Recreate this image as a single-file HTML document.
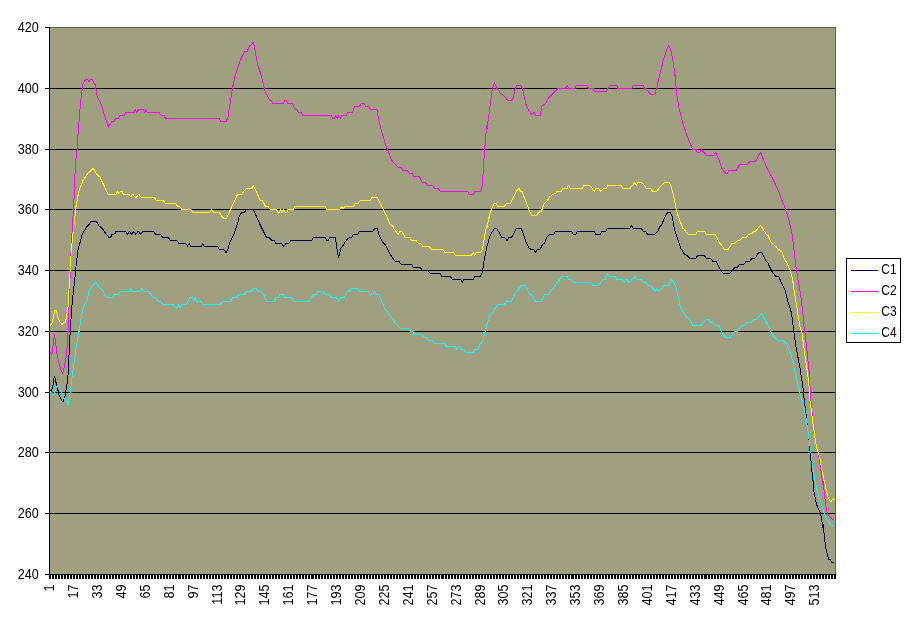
<!DOCTYPE html>
<html lang="en"><head><meta charset="utf-8"><title>Chart</title>
<style>html,body{margin:0;padding:0;background:#fff}body{width:911px;height:623px;overflow:hidden}svg{display:block}text{font-family:"Liberation Sans",Arial,sans-serif;font-size:14px;fill:#000}</style></head><body>
<svg width="911" height="623" viewBox="0 0 911 623">
<rect width="911" height="623" fill="#fff"/>
<g shape-rendering="crispEdges">
<rect x="49" y="27" width="787" height="548" fill="#A0A080"/>
<rect x="49" y="27" width="787" height="1" fill="#62623C"/>
<rect x="835" y="27" width="1" height="548" fill="#62623C"/>
<rect x="49" y="88" width="786" height="1" fill="#000"/>
<rect x="49" y="149" width="786" height="1" fill="#000"/>
<rect x="49" y="209" width="786" height="1" fill="#000"/>
<rect x="49" y="270" width="786" height="1" fill="#000"/>
<rect x="49" y="331" width="786" height="1" fill="#000"/>
<rect x="49" y="392" width="786" height="1" fill="#000"/>
<rect x="49" y="452" width="786" height="1" fill="#000"/>
<rect x="49" y="513" width="786" height="1" fill="#000"/>
<rect x="49" y="27" width="1" height="548" fill="#000"/>
<rect x="49" y="574" width="787" height="1" fill="#000"/>
<rect x="45" y="27" width="4" height="1" fill="#000"/>
<rect x="45" y="88" width="4" height="1" fill="#000"/>
<rect x="45" y="149" width="4" height="1" fill="#000"/>
<rect x="45" y="209" width="4" height="1" fill="#000"/>
<rect x="45" y="270" width="4" height="1" fill="#000"/>
<rect x="45" y="331" width="4" height="1" fill="#000"/>
<rect x="45" y="392" width="4" height="1" fill="#000"/>
<rect x="45" y="452" width="4" height="1" fill="#000"/>
<rect x="45" y="513" width="4" height="1" fill="#000"/>
<rect x="45" y="574" width="4" height="1" fill="#000"/>
<path d="M49 575h1v4h-1zM50 575h1v4h-1zM52 575h1v4h-1zM53 575h1v4h-1zM55 575h1v4h-1zM56 575h1v4h-1zM58 575h1v4h-1zM59 575h1v4h-1zM61 575h1v4h-1zM62 575h1v4h-1zM64 575h1v4h-1zM65 575h1v4h-1zM67 575h1v4h-1zM68 575h1v4h-1zM70 575h1v4h-1zM71 575h1v4h-1zM73 575h1v4h-1zM74 575h1v4h-1zM76 575h1v4h-1zM77 575h1v4h-1zM79 575h1v4h-1zM80 575h1v4h-1zM82 575h1v4h-1zM83 575h1v4h-1zM85 575h1v4h-1zM86 575h1v4h-1zM88 575h1v4h-1zM89 575h1v4h-1zM91 575h1v4h-1zM92 575h1v4h-1zM94 575h1v4h-1zM95 575h1v4h-1zM97 575h1v4h-1zM98 575h1v4h-1zM100 575h1v4h-1zM101 575h1v4h-1zM103 575h1v4h-1zM104 575h1v4h-1zM106 575h1v4h-1zM107 575h1v4h-1zM109 575h1v4h-1zM110 575h1v4h-1zM112 575h1v4h-1zM113 575h1v4h-1zM115 575h1v4h-1zM116 575h1v4h-1zM118 575h1v4h-1zM119 575h1v4h-1zM121 575h1v4h-1zM122 575h1v4h-1zM124 575h1v4h-1zM125 575h1v4h-1zM127 575h1v4h-1zM128 575h1v4h-1zM130 575h1v4h-1zM131 575h1v4h-1zM133 575h1v4h-1zM134 575h1v4h-1zM136 575h1v4h-1zM137 575h1v4h-1zM139 575h1v4h-1zM140 575h1v4h-1zM142 575h1v4h-1zM143 575h1v4h-1zM145 575h1v4h-1zM146 575h1v4h-1zM148 575h1v4h-1zM149 575h1v4h-1zM151 575h1v4h-1zM152 575h1v4h-1zM154 575h1v4h-1zM155 575h1v4h-1zM157 575h1v4h-1zM158 575h1v4h-1zM160 575h1v4h-1zM161 575h1v4h-1zM163 575h1v4h-1zM164 575h1v4h-1zM166 575h1v4h-1zM167 575h1v4h-1zM169 575h1v4h-1zM170 575h1v4h-1zM172 575h1v4h-1zM173 575h1v4h-1zM175 575h1v4h-1zM176 575h1v4h-1zM178 575h1v4h-1zM179 575h1v4h-1zM180 575h1v4h-1zM182 575h1v4h-1zM183 575h1v4h-1zM185 575h1v4h-1zM186 575h1v4h-1zM188 575h1v4h-1zM189 575h1v4h-1zM191 575h1v4h-1zM192 575h1v4h-1zM194 575h1v4h-1zM195 575h1v4h-1zM197 575h1v4h-1zM198 575h1v4h-1zM200 575h1v4h-1zM201 575h1v4h-1zM203 575h1v4h-1zM204 575h1v4h-1zM206 575h1v4h-1zM207 575h1v4h-1zM209 575h1v4h-1zM210 575h1v4h-1zM212 575h1v4h-1zM213 575h1v4h-1zM215 575h1v4h-1zM216 575h1v4h-1zM218 575h1v4h-1zM219 575h1v4h-1zM221 575h1v4h-1zM222 575h1v4h-1zM224 575h1v4h-1zM225 575h1v4h-1zM227 575h1v4h-1zM228 575h1v4h-1zM230 575h1v4h-1zM231 575h1v4h-1zM233 575h1v4h-1zM234 575h1v4h-1zM236 575h1v4h-1zM237 575h1v4h-1zM239 575h1v4h-1zM240 575h1v4h-1zM242 575h1v4h-1zM243 575h1v4h-1zM245 575h1v4h-1zM246 575h1v4h-1zM248 575h1v4h-1zM249 575h1v4h-1zM251 575h1v4h-1zM252 575h1v4h-1zM254 575h1v4h-1zM255 575h1v4h-1zM257 575h1v4h-1zM258 575h1v4h-1zM260 575h1v4h-1zM261 575h1v4h-1zM263 575h1v4h-1zM264 575h1v4h-1zM266 575h1v4h-1zM267 575h1v4h-1zM269 575h1v4h-1zM270 575h1v4h-1zM272 575h1v4h-1zM273 575h1v4h-1zM275 575h1v4h-1zM276 575h1v4h-1zM278 575h1v4h-1zM279 575h1v4h-1zM281 575h1v4h-1zM282 575h1v4h-1zM284 575h1v4h-1zM285 575h1v4h-1zM287 575h1v4h-1zM288 575h1v4h-1zM290 575h1v4h-1zM291 575h1v4h-1zM293 575h1v4h-1zM294 575h1v4h-1zM296 575h1v4h-1zM297 575h1v4h-1zM299 575h1v4h-1zM300 575h1v4h-1zM302 575h1v4h-1zM303 575h1v4h-1zM305 575h1v4h-1zM306 575h1v4h-1zM308 575h1v4h-1zM309 575h1v4h-1zM311 575h1v4h-1zM312 575h1v4h-1zM313 575h1v4h-1zM315 575h1v4h-1zM316 575h1v4h-1zM318 575h1v4h-1zM319 575h1v4h-1zM321 575h1v4h-1zM322 575h1v4h-1zM324 575h1v4h-1zM325 575h1v4h-1zM327 575h1v4h-1zM328 575h1v4h-1zM330 575h1v4h-1zM331 575h1v4h-1zM333 575h1v4h-1zM334 575h1v4h-1zM336 575h1v4h-1zM337 575h1v4h-1zM339 575h1v4h-1zM340 575h1v4h-1zM342 575h1v4h-1zM343 575h1v4h-1zM345 575h1v4h-1zM346 575h1v4h-1zM348 575h1v4h-1zM349 575h1v4h-1zM351 575h1v4h-1zM352 575h1v4h-1zM354 575h1v4h-1zM355 575h1v4h-1zM357 575h1v4h-1zM358 575h1v4h-1zM360 575h1v4h-1zM361 575h1v4h-1zM363 575h1v4h-1zM364 575h1v4h-1zM366 575h1v4h-1zM367 575h1v4h-1zM369 575h1v4h-1zM370 575h1v4h-1zM372 575h1v4h-1zM373 575h1v4h-1zM375 575h1v4h-1zM376 575h1v4h-1zM378 575h1v4h-1zM379 575h1v4h-1zM381 575h1v4h-1zM382 575h1v4h-1zM384 575h1v4h-1zM385 575h1v4h-1zM387 575h1v4h-1zM388 575h1v4h-1zM390 575h1v4h-1zM391 575h1v4h-1zM393 575h1v4h-1zM394 575h1v4h-1zM396 575h1v4h-1zM397 575h1v4h-1zM399 575h1v4h-1zM400 575h1v4h-1zM402 575h1v4h-1zM403 575h1v4h-1zM405 575h1v4h-1zM406 575h1v4h-1zM408 575h1v4h-1zM409 575h1v4h-1zM411 575h1v4h-1zM412 575h1v4h-1zM414 575h1v4h-1zM415 575h1v4h-1zM417 575h1v4h-1zM418 575h1v4h-1zM420 575h1v4h-1zM421 575h1v4h-1zM423 575h1v4h-1zM424 575h1v4h-1zM426 575h1v4h-1zM427 575h1v4h-1zM429 575h1v4h-1zM430 575h1v4h-1zM432 575h1v4h-1zM433 575h1v4h-1zM435 575h1v4h-1zM436 575h1v4h-1zM438 575h1v4h-1zM439 575h1v4h-1zM441 575h1v4h-1zM442 575h1v4h-1zM443 575h1v4h-1zM445 575h1v4h-1zM446 575h1v4h-1zM448 575h1v4h-1zM449 575h1v4h-1zM451 575h1v4h-1zM452 575h1v4h-1zM454 575h1v4h-1zM455 575h1v4h-1zM457 575h1v4h-1zM458 575h1v4h-1zM460 575h1v4h-1zM461 575h1v4h-1zM463 575h1v4h-1zM464 575h1v4h-1zM466 575h1v4h-1zM467 575h1v4h-1zM469 575h1v4h-1zM470 575h1v4h-1zM472 575h1v4h-1zM473 575h1v4h-1zM475 575h1v4h-1zM476 575h1v4h-1zM478 575h1v4h-1zM479 575h1v4h-1zM481 575h1v4h-1zM482 575h1v4h-1zM484 575h1v4h-1zM485 575h1v4h-1zM487 575h1v4h-1zM488 575h1v4h-1zM490 575h1v4h-1zM491 575h1v4h-1zM493 575h1v4h-1zM494 575h1v4h-1zM496 575h1v4h-1zM497 575h1v4h-1zM499 575h1v4h-1zM500 575h1v4h-1zM502 575h1v4h-1zM503 575h1v4h-1zM505 575h1v4h-1zM506 575h1v4h-1zM508 575h1v4h-1zM509 575h1v4h-1zM511 575h1v4h-1zM512 575h1v4h-1zM514 575h1v4h-1zM515 575h1v4h-1zM517 575h1v4h-1zM518 575h1v4h-1zM520 575h1v4h-1zM521 575h1v4h-1zM523 575h1v4h-1zM524 575h1v4h-1zM526 575h1v4h-1zM527 575h1v4h-1zM529 575h1v4h-1zM530 575h1v4h-1zM532 575h1v4h-1zM533 575h1v4h-1zM535 575h1v4h-1zM536 575h1v4h-1zM538 575h1v4h-1zM539 575h1v4h-1zM541 575h1v4h-1zM542 575h1v4h-1zM544 575h1v4h-1zM545 575h1v4h-1zM547 575h1v4h-1zM548 575h1v4h-1zM550 575h1v4h-1zM551 575h1v4h-1zM553 575h1v4h-1zM554 575h1v4h-1zM556 575h1v4h-1zM557 575h1v4h-1zM559 575h1v4h-1zM560 575h1v4h-1zM562 575h1v4h-1zM563 575h1v4h-1zM565 575h1v4h-1zM566 575h1v4h-1zM568 575h1v4h-1zM569 575h1v4h-1zM571 575h1v4h-1zM572 575h1v4h-1zM573 575h1v4h-1zM575 575h1v4h-1zM576 575h1v4h-1zM578 575h1v4h-1zM579 575h1v4h-1zM581 575h1v4h-1zM582 575h1v4h-1zM584 575h1v4h-1zM585 575h1v4h-1zM587 575h1v4h-1zM588 575h1v4h-1zM590 575h1v4h-1zM591 575h1v4h-1zM593 575h1v4h-1zM594 575h1v4h-1zM596 575h1v4h-1zM597 575h1v4h-1zM599 575h1v4h-1zM600 575h1v4h-1zM602 575h1v4h-1zM603 575h1v4h-1zM605 575h1v4h-1zM606 575h1v4h-1zM608 575h1v4h-1zM609 575h1v4h-1zM611 575h1v4h-1zM612 575h1v4h-1zM614 575h1v4h-1zM615 575h1v4h-1zM617 575h1v4h-1zM618 575h1v4h-1zM620 575h1v4h-1zM621 575h1v4h-1zM623 575h1v4h-1zM624 575h1v4h-1zM626 575h1v4h-1zM627 575h1v4h-1zM629 575h1v4h-1zM630 575h1v4h-1zM632 575h1v4h-1zM633 575h1v4h-1zM635 575h1v4h-1zM636 575h1v4h-1zM638 575h1v4h-1zM639 575h1v4h-1zM641 575h1v4h-1zM642 575h1v4h-1zM644 575h1v4h-1zM645 575h1v4h-1zM647 575h1v4h-1zM648 575h1v4h-1zM650 575h1v4h-1zM651 575h1v4h-1zM653 575h1v4h-1zM654 575h1v4h-1zM656 575h1v4h-1zM657 575h1v4h-1zM659 575h1v4h-1zM660 575h1v4h-1zM662 575h1v4h-1zM663 575h1v4h-1zM665 575h1v4h-1zM666 575h1v4h-1zM668 575h1v4h-1zM669 575h1v4h-1zM671 575h1v4h-1zM672 575h1v4h-1zM674 575h1v4h-1zM675 575h1v4h-1zM677 575h1v4h-1zM678 575h1v4h-1zM680 575h1v4h-1zM681 575h1v4h-1zM683 575h1v4h-1zM684 575h1v4h-1zM686 575h1v4h-1zM687 575h1v4h-1zM689 575h1v4h-1zM690 575h1v4h-1zM692 575h1v4h-1zM693 575h1v4h-1zM695 575h1v4h-1zM696 575h1v4h-1zM698 575h1v4h-1zM699 575h1v4h-1zM701 575h1v4h-1zM702 575h1v4h-1zM704 575h1v4h-1zM705 575h1v4h-1zM706 575h1v4h-1zM708 575h1v4h-1zM709 575h1v4h-1zM711 575h1v4h-1zM712 575h1v4h-1zM714 575h1v4h-1zM715 575h1v4h-1zM717 575h1v4h-1zM718 575h1v4h-1zM720 575h1v4h-1zM721 575h1v4h-1zM723 575h1v4h-1zM724 575h1v4h-1zM726 575h1v4h-1zM727 575h1v4h-1zM729 575h1v4h-1zM730 575h1v4h-1zM732 575h1v4h-1zM733 575h1v4h-1zM735 575h1v4h-1zM736 575h1v4h-1zM738 575h1v4h-1zM739 575h1v4h-1zM741 575h1v4h-1zM742 575h1v4h-1zM744 575h1v4h-1zM745 575h1v4h-1zM747 575h1v4h-1zM748 575h1v4h-1zM750 575h1v4h-1zM751 575h1v4h-1zM753 575h1v4h-1zM754 575h1v4h-1zM756 575h1v4h-1zM757 575h1v4h-1zM759 575h1v4h-1zM760 575h1v4h-1zM762 575h1v4h-1zM763 575h1v4h-1zM765 575h1v4h-1zM766 575h1v4h-1zM768 575h1v4h-1zM769 575h1v4h-1zM771 575h1v4h-1zM772 575h1v4h-1zM774 575h1v4h-1zM775 575h1v4h-1zM777 575h1v4h-1zM778 575h1v4h-1zM780 575h1v4h-1zM781 575h1v4h-1zM783 575h1v4h-1zM784 575h1v4h-1zM786 575h1v4h-1zM787 575h1v4h-1zM789 575h1v4h-1zM790 575h1v4h-1zM792 575h1v4h-1zM793 575h1v4h-1zM795 575h1v4h-1zM796 575h1v4h-1zM798 575h1v4h-1zM799 575h1v4h-1zM801 575h1v4h-1zM802 575h1v4h-1zM804 575h1v4h-1zM805 575h1v4h-1zM807 575h1v4h-1zM808 575h1v4h-1zM810 575h1v4h-1zM811 575h1v4h-1zM813 575h1v4h-1zM814 575h1v4h-1zM816 575h1v4h-1zM817 575h1v4h-1zM819 575h1v4h-1zM820 575h1v4h-1zM822 575h1v4h-1zM823 575h1v4h-1zM825 575h1v4h-1zM826 575h1v4h-1zM828 575h1v4h-1zM829 575h1v4h-1zM831 575h1v4h-1zM832 575h1v4h-1zM834 575h1v4h-1zM835 575h1v4h-1z" fill="#000"/>
</g>
<g fill="none" stroke-width="1" shape-rendering="crispEdges" stroke-linejoin="round">
<polyline points="50.3,390 51.4,391.3 53.1,385 54.3,376.3 55.3,379.2 56.4,384.2 57.7,389.2 59.3,395.9 62.3,401.3 63.5,401.3 64.8,396.7 66.4,388.4 67.9,378.4 68.7,358.3 69.5,350 69.8,337.5 70.6,326.7 71.4,311.7 72.5,300 74.9,278.1 76.5,261.4 78.2,248.9 79.9,243 82.4,233.8 87.7,225.5 89.4,224.3 90.7,221.4 96.1,221.4 98.2,224.3 98.2,225 102.4,228.8 106.6,234.7 109.1,237.5 110.7,237.2 112.1,234.3 114.9,233.8 116.1,231.3 125.8,231.3 127.4,234.3 129.4,231.3 131.6,234.3 133.8,231.7 135.8,234.3 138.3,231.3 140.8,234.3 142.8,231.3 153.3,231.3 155.5,234.3 160.8,234.3 162.5,237.5 168.3,237.5 170,240.2 176.6,240.2 178.8,243.4 185.8,243.4 187.5,246 189.2,243.4 190.8,246.4 201.3,246.4 202.5,243.4 204.2,246.4 217.5,246.4 219.2,249.2 223.4,249.2 225.9,252.5 227.5,250.5 229.7,243 234.2,233.8 237.6,223 237.6,224.3 239.2,215.9 241.7,212.6 244.7,212.1 246.4,209.3 253.1,209.3 254.7,212.6 258.4,220.9 260.9,226.4 263.4,231.3 266.4,237.2 269.3,237.7 271.8,240.2 274.3,240.5 275.9,243.4 281.4,243.4 283.8,246.4 285.9,243.4 289.3,243 290.9,240.2 311.8,240.2 313.5,237.5 325.1,237.5 326.8,240.2 328.5,240.2 329.8,237.5 335.5,237.5 336.8,248 338.5,258 341,248 343,245.5 346.3,240.2 349.3,237.5 351.9,237.2 353.5,234.3 357.7,234.3 359.7,231.3 373,231.3 374.7,228.5 377.4,228.5 379,234.7 382.7,242.2 384.7,243.9 391.9,257.2 395.2,261.4 399.1,261.4 401.1,264.4 411.4,264.4 413.6,267.5 420.3,267.5 422.4,270.6 427.8,270.6 429.8,273.1 439.8,273.1 441.9,276.4 450.3,276.4 452.5,279.4 460.8,279.4 462.5,282.2 464.1,279.4 473.2,279.4 474.8,276.4 480.3,276.4 482.5,272.2 484.2,259.7 487,246.4 489.5,237.2 492,232.2 494.5,228.5 496.7,228.8 498.7,231.7 501.7,237.2 504.5,237.5 507,240.5 509,237.5 511.7,237.2 516.2,228.5 521.2,228.5 523.4,233.8 526.2,242.2 529.6,248.9 533.7,249.4 535.7,252.5 537.4,249.4 540.1,249.2 542.4,244.7 544.6,243 546.7,237.5 549.6,234.3 553.7,234.3 555.4,231.3 571.3,231.3 573.4,234.3 575.8,234.3 577.4,231.3 594.1,231.3 595.8,234.3 600.1,234.3 601.8,231.3 605.8,231.3 607.5,228.5 629.7,228.5 631.7,225.5 633.3,228.5 641.3,228.5 643.4,231.3 645.5,231.7 647.7,234.3 655,234.3 657.7,231.3 660.5,225.5 661.4,225.1 665.5,215.9 667.7,212.3 670.5,212.3 672.2,216.8 674.4,228.9 674.7,229.7 677.2,238 680.6,248 684.7,254.7 687.2,255.5 689.7,258.4 695.6,258.4 697.7,255.5 704.4,255.5 706.4,258.4 710.6,258.4 712.8,261.4 716.4,261.7 719.8,268.9 722.8,273.1 730.1,273.1 732.8,269.7 734.8,267.5 737.3,267.2 739.8,264.4 744,264.2 746.1,261.4 749.8,261 751.8,258.4 755.6,258 758.5,252.5 761.8,252.5 765.7,260.5 767.8,262.7 769.8,267.2 772.3,272.2 775.7,276.4 779,276.7 780.7,281.4 784.9,289.7 787.4,299.8 791.5,313.1 793.2,326.9 795.9,346.7 799.8,366.7 802.1,381.8 803.8,393.4 803.8,396 805.4,409.3 807.4,426 809.1,441 810.4,454.4 811.6,467.7 813.2,482.8 813.2,480 813.4,488.3 815.4,499.2 816.7,505 818.8,509.2 820.5,513.4 821.7,520 823,527.6 823,524 823.8,531.5 824.9,540.7 825.9,548.6 827.4,554.9 828.5,559 830.5,559.9 831.7,562.4 833.8,562.4" stroke="#000048"/>
<polyline points="50.3,352.5 51.4,355 52.3,351.9 54.5,334.2 56.7,351.9 58.5,361.7 61,370 62.7,373.3 63.9,368.3 65.6,360.8 66.8,352.5 67.3,341.7 68.1,331.7 68.5,320.8 68.9,308.3 69.5,300 69.5,289.7 70.4,269.7 71.5,239.7 72.7,223 73.7,205.1 75.4,165 77,150 78,135 78.2,130.9 80.4,103.8 82.7,84.6 84.9,80.7 86.5,79.2 87.7,79.2 89,82.1 90.4,79.6 92.1,79.2 93.7,82.1 95.4,85.4 97.4,97.1 101.6,105.4 104.9,117.1 108.6,127.1 111.6,121.6 113.7,121.6 115.7,118.4 118.2,118.4 119.9,115.4 124.4,115.4 126.1,112.4 134.1,112.4 135.3,109.6 136.6,112.4 138.8,109.6 143.3,109.6 144.6,112.4 145.8,109.6 147.4,112.4 159.1,112.4 160.8,115.1 163.8,115.1 165.5,118.4 219.2,118.4 220.9,121.4 226.2,121.4 228,117.1 230,103.8 232.5,87.9 235,76.2 240.1,60.4 242.6,55.4 244.7,51.7 247.2,51.4 249.7,45.7 251.4,45 253.1,42.5 254.2,45.7 257.6,64.5 259.7,70.4 262.6,81.2 264.7,90.4 267.1,95.4 269.8,100.1 271.4,100.7 272.9,103.3 283.4,103.3 284.8,100.4 286.4,100.4 287.6,103.3 292.1,103.3 294.8,108.8 296.8,109.8 298.5,112.4 301,112.4 302.6,115.4 331.5,115.4 332.7,118.4 334.3,118.4 335.5,115.8 337.2,118.4 338.5,115.8 340.2,118.4 341.8,115.4 346.3,115.4 347.7,112.4 352.4,112.4 354.7,106.4 359.4,106.4 361.4,103.4 364.4,103.4 365.7,106.4 368.5,106.4 370.2,109.4 376.9,109.4 378.5,118.4 381.4,130.9 382.7,135 385.2,143.4 387.4,150 389.7,155 391.4,160 394.4,163.4 398.6,167.5 401.1,167.5 402.7,170.4 407.4,170.4 409.1,173.4 411.9,173.4 413.6,176.4 419.1,176.4 421.9,182.2 425.3,182.2 426.9,185.1 432.4,185.1 434.4,188.1 438.1,188.1 440.3,191.4 467.5,191.4 469.1,194.2 473.2,194.2 474.8,191.4 480.3,191.4 482,187.6 482.8,178.4 483.7,163.4 485.3,141.7 486.7,125 486.7,130.9 489.5,110.4 492.3,88.7 494.5,82.4 497,88.4 500.7,93.7 503.7,95.4 507.9,100.4 511.7,100.1 513.4,97.1 515,88.7 516.7,85.4 520.7,85.4 522.4,88.4 526.2,105.4 529.1,110.8 532.1,115.1 534.1,112.4 535.4,115.1 540.4,115.1 541.7,106.4 544.1,104.6 546.2,102.9 548.7,97.9 551.2,95.4 555.4,91.2 557.9,88.4 565.4,88.4 567.4,85.4 568.8,88.4 574.6,88.4 576.3,85.4 586.8,85.4 588.5,88.4 593,88.4 594.1,91.2 606.3,91.2 608,88.4 610.5,85.4 616.8,85.4 618,88.4 631.8,88.4 633.5,85.4 633.5,85.4 643.4,85.4 644.7,88.4 646.7,89.6 650.5,94.2 655,94.2 656.7,87.9 659.7,75.4 663,61.2 666,52 668.5,45.4 670.5,48.7 673,61.2 674.7,72 676.7,93.7 678.9,107.1 681.4,117.9 683.9,127.1 685.6,130.9 686.4,134.2 689.7,142.5 692.7,149.2 696.1,149.7 697.2,152.2 700.1,152.2 701.4,149.7 703.9,152.2 706.4,155.5 713.9,155.5 715.6,152.5 718.9,160 722.3,169.2 725.6,173.4 727.3,173.4 728.9,170.4 736.5,170.4 739.5,164.5 747.8,164.5 749.8,161.4 755.6,161.4 758.1,156.7 760.6,152.5 762.3,156.7 765.7,165 769.8,173.4 770.3,174.2 774.9,183.4 779,191.7 781.5,199.2 784,205.1 786.5,212.6 789,220.1 790.7,228.9 791.5,229.7 793.2,243 795.7,264.7 797.7,278.1 800.7,294.7 802.7,311.4 804,326.9 805.1,333.4 807.6,356.7 809.3,373.4 810.1,388.4 810.4,396 812.1,412.7 813.2,426 816.6,447.7 818.7,456.1 821.1,471.1 823.2,486.1 823.2,480 823.8,488.3 825,499.2 825.9,506.7 827.4,513.4 828.8,515.9 830.9,517.5 832.1,519.2 833.8,519.4" stroke="#FF00FF"/>
<polyline points="50.3,325.4 52.3,322.5 53.9,315 54.8,310.4 56.4,310.4 57.3,315.9 59.3,320.9 62.3,325 63.5,322.5 65.6,321.7 66.9,315 67.9,308.3 68.5,300 69,289.7 70.4,264.7 72.4,238 74.4,223 75.7,208.4 77.4,198.4 79,190.9 82.7,180.9 87.7,173.4 89.9,171.7 93.2,168 97.4,175.1 99.9,177.1 108.2,194.2 115.7,194.2 117.4,191.4 118.7,193.7 120.4,191.4 122.1,191.7 123.3,194.2 129.1,194.2 130.8,197.1 132.8,194.2 134.9,197.1 136.6,197.1 138.8,194.2 140.8,197.1 154.1,197.1 156.1,200.4 163.3,200.4 165,203.1 175.5,203.1 177.5,206.1 180,206.8 181.7,209.3 190.5,209.3 192.5,212.1 210,212.1 211.7,209.3 213.4,212.1 219.2,212.1 220.9,215.1 223.4,218.1 226.4,218.1 228.7,213.4 237.6,194.2 242.1,194.2 243.7,191.4 246.7,188.4 251.4,188.4 253.4,185.4 260.1,200.1 262.6,200.9 265.4,206.3 268.4,206.8 270.1,209.3 275.9,209.3 277.6,212.1 279.3,212.1 280.9,209.3 281.8,212.1 283.8,209.3 285.1,212.1 286.8,212.1 288.1,209.3 293.4,209.3 295.1,206.3 325.1,206.3 326.8,209.3 339.7,209.3 341.3,206.3 343,209.3 344.7,206.3 353.5,206.3 355.2,203.4 358.5,203.1 360.2,200.4 370.2,200.4 371.9,197.2 377.4,197.2 379,200.9 386.1,215.1 390.2,224.3 392.7,225.9 394.1,228.9 394.1,228.8 398.1,234.3 400.2,231.3 401.9,231.7 405.2,237.2 409.4,237.5 411.9,240.5 416.1,240.5 418.1,243.4 420.8,243.4 422.8,246.4 429.4,246.4 431.1,249.4 442.8,249.4 444.8,252.5 453.6,252.5 455.3,255.5 471.5,255.5 473.2,252.5 474.5,255.5 476.5,252.5 480.8,252.5 482.8,248 484.5,236.3 486.7,226.3 486.7,228.9 489.5,215.1 491.7,208.4 494.5,203.1 496.2,203.4 497.4,206.3 504.5,206.3 506.7,203.1 510.4,203.1 516.2,191.4 519,188.4 520.4,191.4 522,191.4 525.7,200.9 529.6,211.8 531.7,215.1 537.1,215.1 538.7,212.1 541.2,211.8 544.1,203.4 546.2,202.1 549.6,197.1 551.7,195.1 553.4,194.2 555.4,193.7 557.1,191.4 561.3,191.4 562.9,188.4 567.1,188.4 568.4,185.4 570.4,188.4 582.1,188.4 584.1,185.4 589.6,185.4 592.1,188.4 594.1,191.4 595.8,188.4 598.5,188.4 600.8,191.4 603.5,188.4 606.3,188.4 608,185.4 621.3,185.4 623,188.4 630.2,188.4 632.7,185.1 634.7,182.6 636.3,185.1 638,182.6 641.7,182.6 644.7,185.9 646.4,188.4 650.5,188.4 652.7,191.4 656.7,191.4 658.9,188.4 663.9,183.1 665.5,182.2 668.9,182.2 671,185.9 673,193.4 676.4,210.1 678.1,215.9 683.1,228.9 683.1,228 685.6,231.3 688.4,234.3 695.6,234.3 697.7,231.3 704.4,231.3 706.4,234.3 715.1,234.3 719.8,243.4 721.8,245.5 724.4,249.4 728.4,249.4 731.8,243.4 734.8,243 737.3,240.5 740.1,240.2 742.3,237.5 746.5,237.2 748.5,234.3 751.8,233.8 754,231.3 755.6,231 760.6,225.2 762.3,228 766.5,234.7 768.2,235.5 771,242.2 775.7,246.4 779,249.7 782,252.2 784,258 786.5,262.2 790.7,271.4 792.4,278.1 794,289.7 796.5,304.8 799.9,326.9 802.1,333.4 805.1,356.7 807.6,373.4 809.3,388.4 809.4,396 811.6,412.7 813.2,426 816.6,447.7 819.4,456.1 821.6,467.7 824.4,482.8 824.4,480 825.5,486.7 826.7,492.5 828.5,498.4 830,500.9 831.3,501.3 833.4,498.4 834.6,500.4" stroke="#FFFF00"/>
<polyline points="50.3,392.3 52.3,393.3 53.5,395.4 54.8,391.7 56.4,386.5 59.3,386.3 60.2,390 62.3,393.3 63.9,398.4 65.6,401.3 67.3,401.9 68.4,404.6 68.9,400 70.2,392.5 71,386.7 71.4,380.9 72.7,371.7 73.9,364.2 75.2,355.8 75.6,350 77.7,339.2 79.4,329.2 80.6,321.7 82,313.3 83.5,307.1 85.2,303.3 86.9,300 86.9,300.6 89,291.4 92.4,285.6 94.1,284.7 96.1,282.2 97.7,285.1 99.9,288.1 102.1,289.7 104.9,294.7 107.4,297.2 113.2,297.2 114.9,294.4 118.2,294.4 120.4,291.4 129.1,291.4 130.8,288.6 132.4,291.4 139.9,291.4 141.9,288.4 144.1,291.4 148.3,291.4 150.8,294.4 153.3,297.2 155.8,297.6 158.3,301.1 160.8,301.4 162.5,304.3 172.8,304.3 175,307.3 177.5,307.3 178.8,304.3 180.5,307.3 181.7,304.8 186.7,304.3 188.3,300.6 190,297.2 192.5,297.2 193.7,300.6 195.3,297.7 196.3,301.1 200.8,301.1 203,304.3 220.4,304.3 222.5,301.1 230.9,301.1 233,297.6 236.7,297.6 238.7,294.4 244.2,294.4 246.7,291.4 251.7,291.1 253.4,288.6 256.4,288.6 258.1,291.4 260.9,291.7 264.2,295.6 266.4,301.1 274.3,301.1 275.9,297.6 278.4,297.2 280.1,294.4 283.1,294.4 284.8,297.2 291.8,297.6 293.8,301.1 308.5,301.1 313.5,294.7 316,294.4 318.1,291.4 320.5,291.4 322.6,293.9 323.5,291.4 325.5,294.4 329.3,294.4 331.5,297.2 336.5,297.6 338.5,301.1 340.7,297.6 344.3,297.6 347.3,291.4 349.7,291.1 351.4,288.6 357.7,288.6 359.4,291.4 368.5,291.4 370.2,294.4 373,294.4 374.4,291.4 376.4,294.4 379,294.7 381.9,301.4 385.2,309.8 387.7,311.4 391.9,318.9 395.2,323.1 398.6,326.4 400.2,328.4 408.6,328.4 410.2,331.2 412.8,331.4 414.4,334.2 422.4,334.2 424.1,337 426.4,337.4 428.1,340 432.4,340 434.4,343.4 444.8,343.4 446.5,346.2 455.3,346.2 456.5,349.2 458.6,346.2 459.8,346.7 461.1,349.2 464.1,349.6 465.8,352.2 473.2,352.2 474.8,349.6 477.8,349.2 480.3,343.7 482.5,342.5 484.5,334.2 486.2,326.9 490.3,313.9 492.8,312.3 497.4,304.3 504.5,304.3 506.7,301.1 511.7,301.1 515.4,292.2 517.9,290.6 520.7,285.6 525.4,285.6 529.6,294.4 531.7,294.7 535.4,301.1 541.2,301.1 544.6,294.7 548.7,294.4 552.1,288.6 554.1,287.2 556.7,282.6 558.4,281.7 561.3,276.4 567.1,276.4 568.8,279.4 571.3,279.7 573.4,282.6 590.8,282.6 593,285.6 598.5,285.6 603,279.7 605.1,279.4 607.5,273.9 609.1,276.4 615.1,276.4 616.8,279.4 622.2,279.4 624.2,282.6 625.8,279.4 627.2,279.7 628.5,282.6 632.2,278.9 634.3,276.4 636.3,279.4 641.3,279.7 643.4,282.6 646,282.6 648,285.1 650.5,285.6 655.5,291.4 656.7,288.6 658.9,291.4 663.9,285.6 668.9,285.2 671.7,279.4 673.9,283.1 676.4,288.1 678.1,296.4 680.6,307.3 683.1,312.3 685.6,316.1 689.7,319.8 692.7,325.1 701.4,325.1 704.4,321.4 706.4,319.3 708.9,319.3 711.1,322.8 713.4,323.1 715.1,325.1 718.1,325.1 719.4,326.9 722.5,334.2 725.9,337.5 730,337.5 734.2,331.7 737.5,331.2 741.1,326.9 742.3,325.1 744.8,325.1 746.8,322.6 751.1,322.3 753.5,319.3 756.8,319.3 761.5,313.4 763.5,316.4 766.5,322.6 769,326.9 771.7,334.2 777.6,340 783.1,340.4 786.4,343.7 791.4,355.9 793.4,365.1 796.8,380.1 800.1,393.4 802.7,402.7 805.7,416 808.2,432.7 810.7,451.1 812.7,466.1 814.9,479.4 814.9,480 816.7,488.3 818.8,495.9 821.7,505 824.2,513.4 826.7,519.2 829.2,522.5 831.3,525.5 833.8,525.5" stroke="#00FFFF"/>
</g>
<text transform="translate(38.7,32) scale(0.9,1)" text-anchor="end">420</text>
<text transform="translate(38.7,93) scale(0.9,1)" text-anchor="end">400</text>
<text transform="translate(38.7,154) scale(0.9,1)" text-anchor="end">380</text>
<text transform="translate(38.7,214) scale(0.9,1)" text-anchor="end">360</text>
<text transform="translate(38.7,275) scale(0.9,1)" text-anchor="end">340</text>
<text transform="translate(38.7,336) scale(0.9,1)" text-anchor="end">320</text>
<text transform="translate(38.7,397) scale(0.9,1)" text-anchor="end">300</text>
<text transform="translate(38.7,457) scale(0.9,1)" text-anchor="end">280</text>
<text transform="translate(38.7,518) scale(0.9,1)" text-anchor="end">260</text>
<text transform="translate(38.7,579) scale(0.9,1)" text-anchor="end">240</text>
<text transform="translate(54.1471,584.6) rotate(-90) scale(0.9,1)" text-anchor="end">1</text>
<text transform="translate(78.0559,584.6) rotate(-90) scale(0.9,1)" text-anchor="end">17</text>
<text transform="translate(101.965,584.6) rotate(-90) scale(0.9,1)" text-anchor="end">33</text>
<text transform="translate(125.873,584.6) rotate(-90) scale(0.9,1)" text-anchor="end">49</text>
<text transform="translate(149.782,584.6) rotate(-90) scale(0.9,1)" text-anchor="end">65</text>
<text transform="translate(173.691,584.6) rotate(-90) scale(0.9,1)" text-anchor="end">81</text>
<text transform="translate(197.6,584.6) rotate(-90) scale(0.9,1)" text-anchor="end">97</text>
<text transform="translate(221.508,584.6) rotate(-90) scale(0.9,1)" text-anchor="end">113</text>
<text transform="translate(245.417,584.6) rotate(-90) scale(0.9,1)" text-anchor="end">129</text>
<text transform="translate(269.326,584.6) rotate(-90) scale(0.9,1)" text-anchor="end">145</text>
<text transform="translate(293.235,584.6) rotate(-90) scale(0.9,1)" text-anchor="end">161</text>
<text transform="translate(317.143,584.6) rotate(-90) scale(0.9,1)" text-anchor="end">177</text>
<text transform="translate(341.052,584.6) rotate(-90) scale(0.9,1)" text-anchor="end">193</text>
<text transform="translate(364.961,584.6) rotate(-90) scale(0.9,1)" text-anchor="end">209</text>
<text transform="translate(388.87,584.6) rotate(-90) scale(0.9,1)" text-anchor="end">225</text>
<text transform="translate(412.778,584.6) rotate(-90) scale(0.9,1)" text-anchor="end">241</text>
<text transform="translate(436.687,584.6) rotate(-90) scale(0.9,1)" text-anchor="end">257</text>
<text transform="translate(460.596,584.6) rotate(-90) scale(0.9,1)" text-anchor="end">273</text>
<text transform="translate(484.505,584.6) rotate(-90) scale(0.9,1)" text-anchor="end">289</text>
<text transform="translate(508.413,584.6) rotate(-90) scale(0.9,1)" text-anchor="end">305</text>
<text transform="translate(532.322,584.6) rotate(-90) scale(0.9,1)" text-anchor="end">321</text>
<text transform="translate(556.231,584.6) rotate(-90) scale(0.9,1)" text-anchor="end">337</text>
<text transform="translate(580.14,584.6) rotate(-90) scale(0.9,1)" text-anchor="end">353</text>
<text transform="translate(604.048,584.6) rotate(-90) scale(0.9,1)" text-anchor="end">369</text>
<text transform="translate(627.957,584.6) rotate(-90) scale(0.9,1)" text-anchor="end">385</text>
<text transform="translate(651.866,584.6) rotate(-90) scale(0.9,1)" text-anchor="end">401</text>
<text transform="translate(675.775,584.6) rotate(-90) scale(0.9,1)" text-anchor="end">417</text>
<text transform="translate(699.683,584.6) rotate(-90) scale(0.9,1)" text-anchor="end">433</text>
<text transform="translate(723.592,584.6) rotate(-90) scale(0.9,1)" text-anchor="end">449</text>
<text transform="translate(747.501,584.6) rotate(-90) scale(0.9,1)" text-anchor="end">465</text>
<text transform="translate(771.41,584.6) rotate(-90) scale(0.9,1)" text-anchor="end">481</text>
<text transform="translate(795.318,584.6) rotate(-90) scale(0.9,1)" text-anchor="end">497</text>
<text transform="translate(819.227,584.6) rotate(-90) scale(0.9,1)" text-anchor="end">513</text>
<g shape-rendering="crispEdges"><rect x="846.5" y="258.5" width="54" height="84" fill="#fff" stroke="#000" stroke-width="1"/>
<rect x="851" y="270" width="27" height="1" fill="#000048"/>
<rect x="851" y="291" width="27" height="1" fill="#FF00FF"/>
<rect x="851" y="312" width="27" height="1" fill="#FFFF00"/>
<rect x="851" y="333" width="27" height="1" fill="#00FFFF"/>
</g>
<text transform="translate(881.3,274) scale(0.86,1)">C1</text>
<text transform="translate(881.3,295) scale(0.86,1)">C2</text>
<text transform="translate(881.3,316) scale(0.86,1)">C3</text>
<text transform="translate(881.3,337) scale(0.86,1)">C4</text>
</svg></body></html>
